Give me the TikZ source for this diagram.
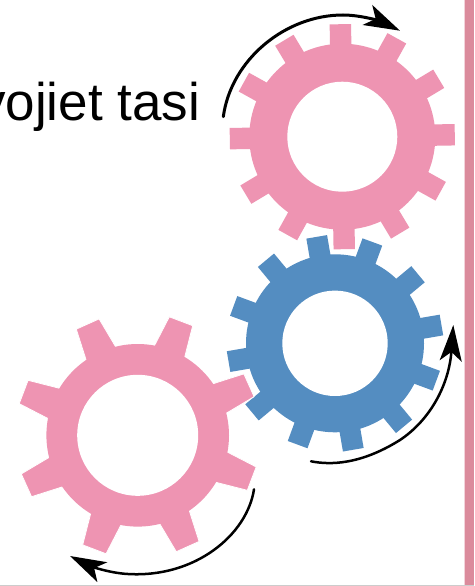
\documentclass[tikz,border=0pt]{standalone}
\usepackage{fontspec}
\setmainfont{Liberation Sans}
\usetikzlibrary{arrows.meta}
\definecolor{gearpink}{HTML}{EE94B2}
\definecolor{gearblue}{HTML}{548DC1}
\definecolor{barpink}{HTML}{DB8B9C}
\definecolor{barpale}{HTML}{F3D3DA}
\definecolor{edgegrey}{HTML}{CCCCCC}
% #1 centre, #2 colour, #3 body r, #4 hole r, #5 tip r, #6 base half width, #7 tip half width, #8 tooth angles
\newcommand{\cogwheel}[8]{%
  \begin{scope}[shift={#1}]
    \foreach \a in {#8} {
      \fill[#2, rotate=-\a] (#3-4,-#6) -- (#5,-#7) -- (#5,#7) -- (#3-4,#6) -- cycle;
    }
    \fill[#2] (0,0) circle[radius=#3];
    \fill[white] (0,0) circle[radius=#4];
  \end{scope}}
\tikzset{
  turnarrow/.style={-{Stealth[length=36pt,width=22pt,inset=9pt]}, black, line cap=round},
}
\begin{document}
\begin{tikzpicture}[x=1pt,y=-1pt]
  \useasboundingbox (0,0) rectangle (474,586);
  \fill[white] (0,0) rectangle (474,586);
  \fill[barpale] (464,0) rectangle (465,586);
  \fill[barpink] (465,0) rectangle (474,586);
  \fill[edgegrey] (0,585) rectangle (474,586);
  \begin{scope}
    \clip (0,0) rectangle (474,586);
    \node[anchor=base west, inner sep=0pt, font=\fontsize{53}{53}\selectfont] (label) at (-21,120) {vojiet tasi};
  \end{scope}
  % blue gear
  \cogwheel{(335,343.3)}{gearblue}{89}{52.7}{108}{10.5}{10.5}{20.25,50.25,80.25,110.25,140.25,170.25,200.25,230.25,260.25,290.25,320.25,350.25}
  % top pink gear
  \cogwheel{(342.3,136.7)}{gearpink}{93}{55}{112.5}{10.7}{10.7}{-1,29,59,89,119,149,179,209,239,269,299,329}
  % left pink gear, with a thin white edge over the blue gear
  \begin{scope}[shift={(137.7,435.3)}]
    \foreach \a in {20.8,65.8,110.8,155.8,200.8,245.8,290.8,335.8} {
      \fill[gearpink, rotate=-\a, draw=white, line width=0.8pt] (87,-16.5) -- (122,-12.5) -- (122,12.5) -- (87,16.5) -- cycle;
    }
    \fill[gearpink] (0,0) circle[radius=91.3];
    \fill[white] (0,0) circle[radius=60.5];
  \end{scope}
  % arrows
  \coordinate (a1s) at (223.3,116.7);
  \coordinate (a1m) at (343,15);
  \coordinate (a1e) at (400,30.7);
  \draw[turnarrow, line width=3pt] (a1s) .. controls (231,60) and (285,15) .. (a1m) .. controls (362,15) and (382,22) .. (a1e);
  \coordinate (a2s) at (311,461.3);
  \coordinate (a2m) at (400,440);
  \coordinate (a2e) at (453.3,325);
  \draw[turnarrow, line width=2.5pt] (a2s) .. controls (330,465) and (360,465) .. (a2m) .. controls (430,420) and (449,385) .. (a2e);
  \coordinate (a3s) at (254,489.3);
  \coordinate (a3m) at (128,574);
  \coordinate (a3e) at (70,556);
  \draw[turnarrow, line width=2.5pt] (a3s) .. controls (247,535) and (195,578) .. (a3m) .. controls (108,573) and (88,565) .. (a3e);
\end{tikzpicture}
\end{document}
